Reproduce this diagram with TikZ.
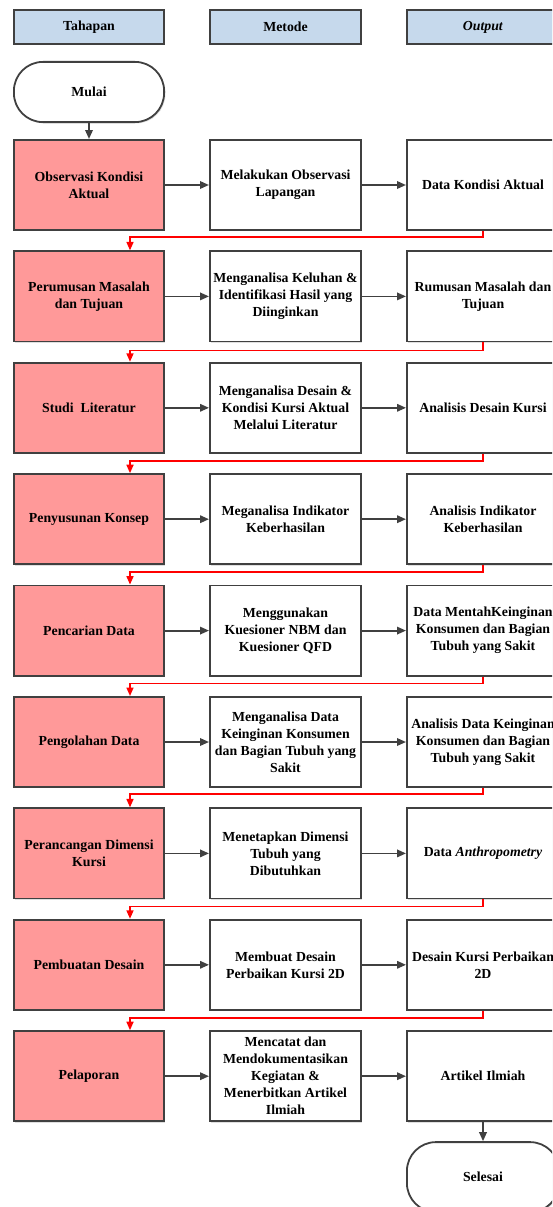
\documentclass[tikz,border=0pt]{standalone}
\usepackage{fontspec}
\setmainfont{Liberation Serif}
\usepackage{tikz}
\usetikzlibrary{positioning,arrows.meta,shadows}
\definecolor{boxline}{HTML}{404040}
\definecolor{headblue}{HTML}{C6D9EC}
\definecolor{tahapred}{HTML}{FF9999}
\definecolor{redline}{HTML}{FF0000}

\tikzset{
  every node/.style={font=\fontsize{13.8}{17}\selectfont\bfseries, align=center},
  shade/.style={drop shadow={shadow xshift=1.3pt, shadow yshift=-1.3pt, opacity=0.25}},
  header/.style={draw=boxline, fill=headblue, line width=1.8pt, minimum height=34.2pt, shade},
  tahap/.style={draw=boxline, fill=tahapred, line width=1.8pt, minimum width=150.2pt, minimum height=90.2pt, shade},
  metode/.style={draw=boxline, fill=white, line width=1.8pt, minimum width=151.2pt, minimum height=90.2pt, shade},
  hasil/.style={draw=boxline, fill=white, line width=1.8pt, minimum width=152.2pt, minimum height=90.2pt, shade},
  terminal/.style={draw=boxline, fill=white, line width=1.8pt, rounded corners=29pt, minimum height=60.2pt, shade},
  arr/.style={draw=boxline, line width=1.8pt, -{Triangle[length=9pt,width=7.5pt]}},
  redarr/.style={draw=redline, line width=1.6pt, -{Triangle[length=8.5pt,width=7pt]}},
  node distance=19.4pt and 44pt
}

\begin{document}
\begin{tikzpicture}

  \useasboundingbox (0,0) rectangle (552pt,-1207pt);
  \clip (0,0) rectangle (552pt,-1207pt);

  % Define nodes
  \node[header, minimum width=150.2pt] (hTahap) at (89pt,-27pt) {Tahapan};
  \node[header, minimum width=151.2pt, right=of hTahap] (hMetode) {Metode};
  \node[header, minimum width=152.2pt, right=of hMetode] (hOutput) {\textit{Output}};

  \node[terminal, minimum width=150.2pt, below=16pt of hTahap] (mulai) {Mulai};

  \node[tahap, below=16pt of mulai] (t1) {Observasi Kondisi\\Aktual};
  \node[metode, right=of t1] (m1) {Melakukan Observasi\\Lapangan};
  \node[hasil, right=of m1] (o1) {Data Kondisi Aktual};

  \node[tahap, below=of t1] (t2) {Perumusan Masalah\\dan Tujuan};
  \node[metode, right=of t2] (m2) {Menganalisa Keluhan \&\\Identifikasi Hasil yang\\Diinginkan};
  \node[hasil, right=of m2] (o2) {Rumusan Masalah dan\\Tujuan};

  \node[tahap, below=of t2] (t3) {Studi\ \ Literatur};
  \node[metode, right=of t3] (m3) {Menganalisa Desain \&\\Kondisi Kursi Aktual\\Melalui Literatur};
  \node[hasil, right=of m3] (o3) {Analisis Desain Kursi};

  \node[tahap, below=of t3] (t4) {Penyusunan Konsep};
  \node[metode, right=of t4] (m4) {Meganalisa Indikator\\Keberhasilan};
  \node[hasil, right=of m4] (o4) {Analisis Indikator\\Keberhasilan};

  \node[tahap, below=of t4] (t5) {Pencarian Data};
  \node[metode, right=of t5] (m5) {Menggunakan\\Kuesioner NBM dan\\Kuesioner QFD};
  \node[hasil, right=of m5] (o5) {Data MentahKeinginan\\Konsumen dan Bagian\\Tubuh yang Sakit};

  \node[tahap, below=of t5] (t6) {Pengolahan Data};
  \node[metode, right=of t6] (m6) {Menganalisa Data\\Keinginan Konsumen\\dan Bagian Tubuh yang\\Sakit};
  \node[hasil, right=of m6] (o6) {Analisis Data Keinginan\\Konsumen dan Bagian\\Tubuh yang Sakit};

  \node[tahap, below=of t6] (t7) {Perancangan Dimensi\\Kursi};
  \node[metode, right=of t7] (m7) {Menetapkan Dimensi\\Tubuh yang\\Dibutuhkan};
  \node[hasil, right=of m7] (o7) {Data \textit{Anthropometry}};

  \node[tahap, below=of t7] (t8) {Pembuatan Desain};
  \node[metode, right=of t8] (m8) {Membuat Desain\\Perbaikan Kursi 2D};
  \node[hasil, right=of m8] (o8) {Desain Kursi Perbaikan\\2D};

  \node[tahap, below=of t8] (t9) {Pelaporan};
  \node[metode, right=of t9] (m9) {Mencatat dan\\Mendokumentasikan\\Kegiatan \&\\Menerbitkan Artikel\\Ilmiah};
  \node[hasil, right=of m9] (o9) {Artikel Ilmiah};

  \node[terminal, minimum width=152.2pt, minimum height=70pt, below=19pt of o9] (selesai) {Selesai};

  % Connect the nodes
  \draw[arr] (mulai) -- (t1);
  \draw[arr] (t1) -- (m1);
  \draw[arr] (m1) -- (o1);
  \draw[arr] (t2) -- (m2);
  \draw[arr] (m2) -- (o2);
  \draw[arr] (t3) -- (m3);
  \draw[arr] (m3) -- (o3);
  \draw[arr] (t4) -- (m4);
  \draw[arr] (m4) -- (o4);
  \draw[arr] (t5) -- (m5);
  \draw[arr] (m5) -- (o5);
  \draw[arr] (t6) -- (m6);
  \draw[arr] (m6) -- (o6);
  \draw[arr] (t7) -- (m7);
  \draw[arr] (m7) -- (o7);
  \draw[arr] (t8) -- (m8);
  \draw[arr] (m8) -- (o8);
  \draw[arr] (t9) -- (m9);
  \draw[arr] (m9) -- (o9);
  \draw[arr] (o9) -- (selesai);

  % Red return lines to the next stage
  \draw[redarr] (o1.south) -- ++(0,-6pt) -| ([xshift=41pt]t2.north);
  \draw[redarr] (o2.south) -- ++(0,-8pt) -| ([xshift=41pt]t3.north);
  \draw[redarr] (o3.south) -- ++(0,-7pt) -| ([xshift=41pt]t4.north);
  \draw[redarr] (o4.south) -- ++(0,-7pt) -| ([xshift=41pt]t5.north);
  \draw[redarr] (o5.south) -- ++(0,-7pt) -| ([xshift=41pt]t6.north);
  \draw[redarr] (o6.south) -- ++(0,-6pt) -| ([xshift=41pt]t7.north);
  \draw[redarr] (o7.south) -- ++(0,-7pt) -| ([xshift=41pt]t8.north);
  \draw[redarr] (o8.south) -- ++(0,-7pt) -| ([xshift=41pt]t9.north);

\end{tikzpicture}
\end{document}
